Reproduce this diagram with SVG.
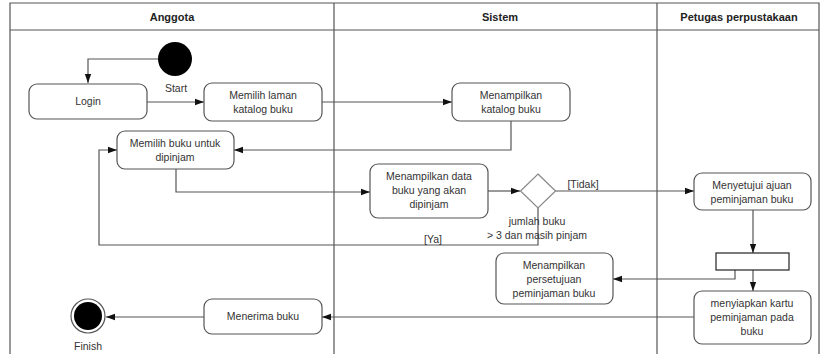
<svg xmlns="http://www.w3.org/2000/svg" width="821" height="354" viewBox="0 0 821 354">
<defs>
<style>
.lane{fill:none;stroke:#555;stroke-width:1.2}
.act{fill:#fff;stroke:#555;stroke-width:1.2}
.t{font-family:"Liberation Sans",Arial,sans-serif;font-size:10.5px;fill:#333;text-anchor:middle}
.h{font-family:"Liberation Sans",Arial,sans-serif;font-size:11px;font-weight:bold;fill:#222;text-anchor:middle}
.c{fill:none;stroke:#555;stroke-width:1.2}
</style>
<marker id="a" viewBox="0 0 10 10" refX="10" refY="5" markerWidth="9" markerHeight="9" markerUnits="userSpaceOnUse" orient="auto">
<path d="M0,1.5 L10,5 L0,8.5 z" fill="#111"/>
</marker>
</defs>
<rect width="821" height="354" fill="#fff"/>
<g id="lanes">
<path class="lane" d="M10,354 V3 H819 V354 M10,30 H819 M334,3 V354 M657,3 V354"/>
<text class="h" x="172" y="21">Anggota</text>
<text class="h" x="500" y="21">Sistem</text>
<text class="h" x="739" y="21">Petugas perpustakaan</text>
</g>
<g id="connectors">
<path class="c" d="M158,59 H88 V83" marker-end="url(#a)"/>
<path class="c" d="M147,102 H204" marker-end="url(#a)"/>
<path class="c" d="M322,102 H452" marker-end="url(#a)"/>
<path class="c" d="M511,121 V150 H234" marker-end="url(#a)"/>
<path class="c" d="M176,169 V192 H370" marker-end="url(#a)"/>
<path class="c" d="M488,191 H520" marker-end="url(#a)"/>
<path class="c" d="M555,191 H694" marker-end="url(#a)"/>
<path class="c" d="M538,208 V245 H99 V150 H117" marker-end="url(#a)"/>
<path class="c" d="M753,210 V253" marker-end="url(#a)"/>
<path class="c" d="M753,270 V291" marker-end="url(#a)"/>
<path class="c" d="M735,270 V279 H613" marker-end="url(#a)"/>
<path class="c" d="M694,317 H322" marker-end="url(#a)"/>
<path class="c" d="M204,317 H106" marker-end="url(#a)"/>
<text class="t" x="583" y="188">[Tidak]</text>
<text class="t" x="433" y="243">[Ya]</text>
<text class="t" x="537" y="225">jumlah buku</text>
<text class="t" x="537" y="239">&gt; 3 dan masih pinjam</text>
</g>
<g id="start">
<circle cx="175" cy="59" r="17" fill="#000"/>
<text class="t" x="176" y="92">Start</text>
</g>
<g id="login">
<rect class="act" x="29" y="84" width="118" height="35" rx="8"/>
<text class="t" x="88" y="105">Login</text>
</g>
<g id="memilih-laman">
<rect class="act" x="204" y="83" width="118" height="38" rx="8"/>
<text class="t" x="263" y="99">Memilih laman</text>
<text class="t" x="263" y="113">katalog buku</text>
</g>
<g id="menampilkan-katalog">
<rect class="act" x="452" y="83" width="118" height="38" rx="8"/>
<text class="t" x="511" y="99">Menampilkan</text>
<text class="t" x="511" y="113">katalog buku</text>
</g>
<g id="memilih-buku">
<rect class="act" x="117" y="131" width="117" height="38" rx="8"/>
<text class="t" x="175" y="147">Memilih buku untuk</text>
<text class="t" x="175" y="161">dipinjam</text>
</g>
<g id="menampilkan-data">
<rect class="act" x="370" y="164" width="118" height="54" rx="8"/>
<text class="t" x="429" y="180">Menampilkan data</text>
<text class="t" x="429" y="194">buku yang akan</text>
<text class="t" x="429" y="208">dipinjam</text>
</g>
<g id="decision">
<path d="M538,174 L555.5,191 L538,208 L520.5,191 Z" fill="#fff" stroke="#888" stroke-width="1.2"/>
</g>
<g id="menyetujui">
<rect class="act" x="694" y="173" width="117" height="37" rx="8"/>
<text class="t" x="752" y="189">Menyetujui ajuan</text>
<text class="t" x="752" y="203">peminjaman buku</text>
</g>
<g id="fork">
<rect x="716" y="253" width="73" height="17" fill="#fff" stroke="#222" stroke-width="1.2"/>
</g>
<g id="menampilkan-persetujuan">
<rect class="act" x="496" y="253" width="117" height="51" rx="8"/>
<text class="t" x="554" y="269">Menampilkan</text>
<text class="t" x="554" y="283">persetujuan</text>
<text class="t" x="554" y="297">peminjaman buku</text>
</g>
<g id="menyiapkan">
<rect class="act" x="694" y="291" width="117" height="53" rx="8"/>
<text class="t" x="752" y="307">menyiapkan kartu</text>
<text class="t" x="752" y="321">peminjaman pada</text>
<text class="t" x="752" y="335">buku</text>
</g>
<g id="menerima">
<rect class="act" x="204" y="299" width="118" height="35" rx="8"/>
<text class="t" x="263" y="320">Menerima buku</text>
</g>
<g id="finish">
<circle cx="88" cy="316" r="17" fill="#fff" stroke="#555" stroke-width="1.2"/>
<circle cx="88" cy="316" r="14" fill="#000"/>
<text class="t" x="88" y="350">Finish</text>
</g>
</svg>
